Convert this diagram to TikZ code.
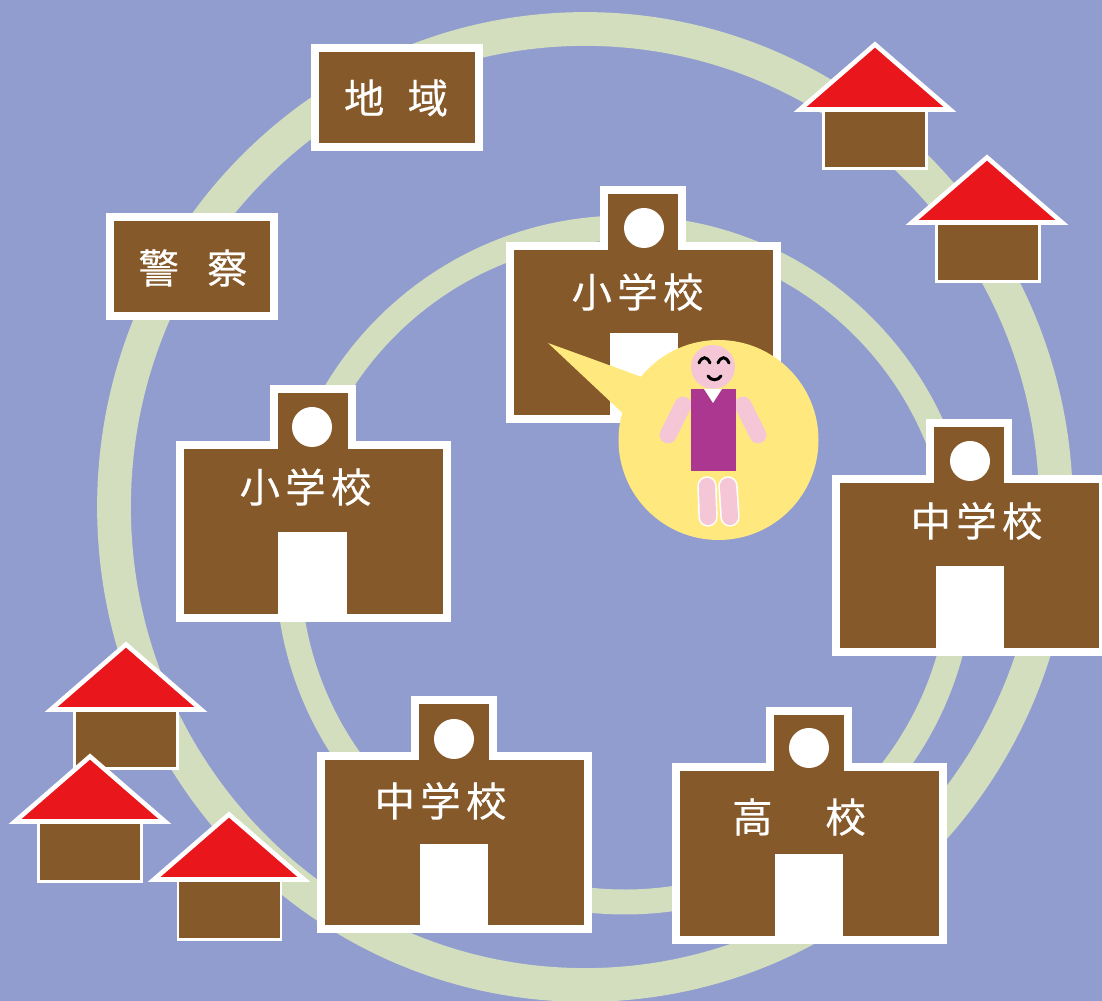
\documentclass[tikz,border=0pt]{standalone}
\usepackage{fontspec}
\newfontfamily\jpfont[LetterSpace=13,FakeBold=0.35]{Noto Sans CJK JP}
\definecolor{skyblue}{HTML}{919DCF}
\definecolor{ringgreen}{HTML}{D3DEBF}
\definecolor{wallbrown}{HTML}{85592A}
\definecolor{roofred}{HTML}{E9161C}
\definecolor{bubbleyellow}{HTML}{FFE97F}
\definecolor{skinpink}{HTML}{F5C6D6}
\definecolor{dresspurple}{HTML}{AC3790}
\tikzset{
  ringline/.style={draw=ringgreen},
  schoolwall/.style={draw=white,fill=wallbrown,line width=2.28pt,miter limit=10},
  signbox/.style={draw=white,fill=wallbrown,line width=2.28pt},
  schoollabel/.style={text=white,inner sep=0pt,font=\jpfont\fontsize{11.5}{14}\selectfont},
  roof/.style={draw=white,fill=roofred,line width=1.3pt},
  housewall/.style={draw=white,fill=wallbrown,line width=0.85pt},
  limb/.style={draw=skinpink,line width=4.8pt,line cap=round},
  leg/.style={draw=white,double=skinpink,double distance=4.6pt,line width=0.45pt,line cap=round},
  face/.style={draw=black,line width=0.85pt,line cap=round}
}
\begin{document}
\begin{tikzpicture}[x=0.01cm,y=-0.01cm]
\useasboundingbox (0,0) rectangle (1102,1001);
\clip (0,0) rectangle (1102,1001);
\fill[skyblue] (0,0) rectangle (1102,1001);
% two rings
\draw[ringline,line width=9.6pt] (585,507) ellipse (471 and 478);
\draw[ringline,line width=7.1pt] (625,565) circle (337);
% houses top right
\draw[housewall] (823.5,110) rectangle ++(103,58.5);
\draw[roof] (875,44.5) -- ++(75,65) -- ++(-150,0) -- cycle;
\draw[housewall] (936.5,223) rectangle ++(103,58.5);
\draw[roof] (987,157.5) -- ++(75,65) -- ++(-150,0) -- cycle;
% houses bottom left
\draw[housewall] (74.5,710) rectangle ++(103,58.5);
\draw[roof] (126,644.5) -- ++(75,65) -- ++(-150,0) -- cycle;
\draw[housewall] (38.5,823) rectangle ++(103,58.5);
\draw[roof] (90,756.5) -- ++(75,65) -- ++(-150,0) -- cycle;
\draw[housewall] (178,881) rectangle ++(103,58.5);
\draw[roof] (229,814.5) -- ++(75,65) -- ++(-150,0) -- cycle;
% signs
\draw[signbox] (315,48) rectangle (479,147);
\node[schoollabel] (chiiki) at (396,98) {地\hspace{6.6pt}域};
\draw[signbox] (110,217) rectangle (274,316);
\node[schoollabel] (keisatsu) at (193,268) {警\hspace{8pt}察};
% school top
\draw[schoolwall] (510,246) -- ++(94,0) -- ++(0,-56) -- ++(78,0) -- ++(0,56) -- ++(95,0) -- ++(0,173) -- ++(-267,0) -- cycle;
\fill[white] (610,333) rectangle ++(68,86);
\fill[white] (644,228) circle (20);
\node[schoollabel] (schoolA) at (637.5,292) {小学校};
% school left
\draw[schoolwall] (180,445) -- ++(94,0) -- ++(0,-56) -- ++(78,0) -- ++(0,56) -- ++(95,0) -- ++(0,173) -- ++(-267,0) -- cycle;
\fill[white] (278,532) rectangle ++(69,86);
\fill[white] (312,427) circle (20);
\node[schoollabel] (schoolB) at (305.5,487) {小学校};
% school right
\draw[schoolwall] (836,479) -- ++(94,0) -- ++(0,-56) -- ++(78,0) -- ++(0,56) -- ++(95,0) -- ++(0,173) -- ++(-267,0) -- cycle;
\fill[white] (936,566) rectangle ++(68,86);
\fill[white] (970,461) circle (20);
\node[schoollabel] (schoolC) at (976.5,521) {中学校};
% school bottom
\draw[schoolwall] (321,756) -- ++(94,0) -- ++(0,-56) -- ++(78,0) -- ++(0,56) -- ++(95,0) -- ++(0,173) -- ++(-267,0) -- cycle;
\fill[white] (420,844) rectangle ++(68,86);
\fill[white] (454,739) circle (20);
\node[schoollabel] (schoolD) at (440.5,801) {中学校};
% high school
\draw[schoolwall] (676,767) -- ++(94,0) -- ++(0,-56) -- ++(78,0) -- ++(0,56) -- ++(95,0) -- ++(0,173) -- ++(-267,0) -- cycle;
\fill[white] (775,854) rectangle ++(68,86);
\fill[white] (809,748) circle (20);
\node[schoollabel] (schoolE) at (799,817) {高\hspace{15pt}校};
% speech bubble
\fill[bubbleyellow] (718.5,440) circle (100);
\fill[bubbleyellow] (548,343) -- (650,380) -- (630,420) -- cycle;
% person
\draw[limb] (683,405) -- (668,435);
\draw[limb] (743,405) -- (758,435);
\draw[leg] (707,486) -- (708,517);
\draw[leg] (728,486) -- (730,517);
\fill[skinpink] (713,367) circle (22);
\fill[dresspurple] (691,389) rectangle (736,471);
\fill[white] (704,389) -- (722,389) -- (713,403) -- cycle;
% face
\draw[face] (699,363) .. controls (702,356) and (707,356) .. (710,363);
\draw[face] (718,363) .. controls (721,356) and (726,356) .. (729,363);
\draw[face] (708,376) .. controls (711,381) and (718,381) .. (721,376);
\end{tikzpicture}
\end{document}
